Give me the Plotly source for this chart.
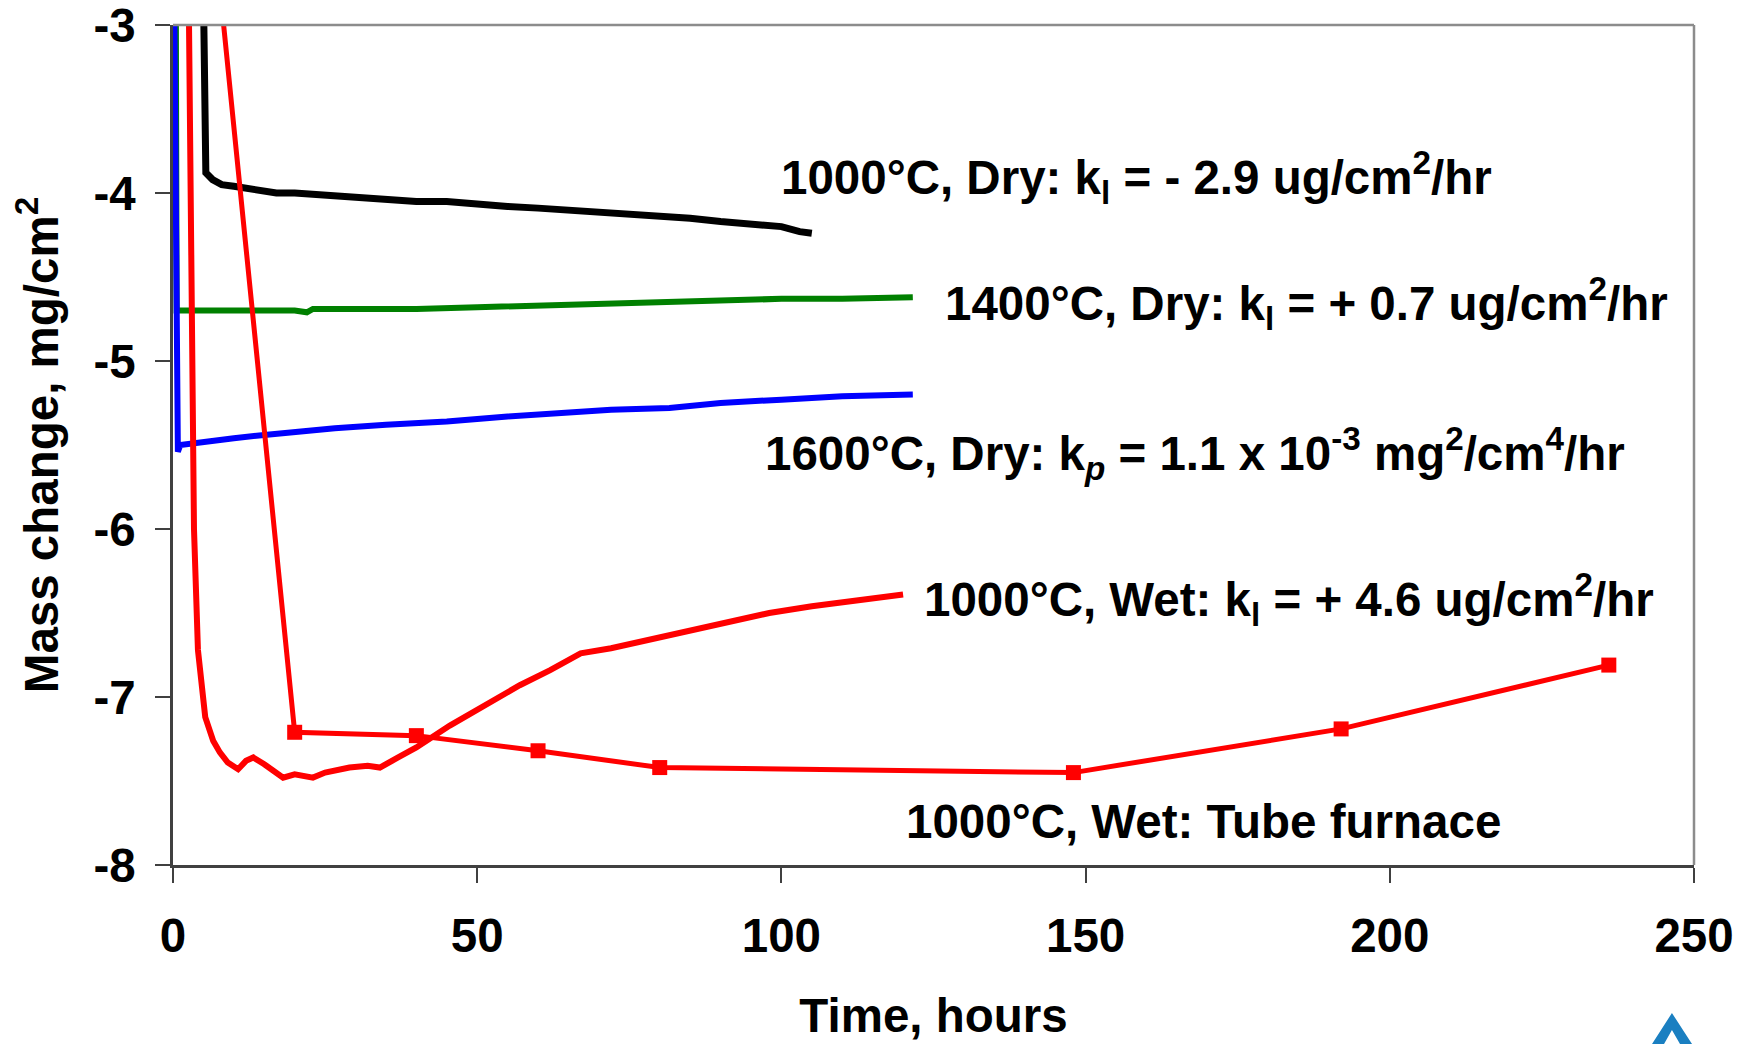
import plotly.graph_objects as go

# ---- data ----
black_t = [4.7, 5.4, 6.5, 8, 10, 13, 17, 20, 24, 27, 30, 35, 40, 45, 50, 55, 60, 65, 70, 75, 80, 85, 90, 95, 100, 103, 105]
black_m = [-2.0, -3.88, -3.92, -3.95, -3.96, -3.98, -4.0, -4.0, -4.01, -4.02, -4.02, -4.04, -4.05, -4.05, -4.07, -4.08, -4.09, -4.10, -4.11, -4.12, -4.13, -4.15, -4.17, -4.19, -4.20, -4.23, -4.24]

green_t = [0.4, 0.6, 1.5, 5, 10, 20, 22, 23, 30, 40, 50, 60, 70, 80, 90, 100, 110, 121.6]
green_m = [-2.0, -4.70, -4.70, -4.70, -4.70, -4.70, -4.71, -4.69, -4.69, -4.69, -4.68, -4.67, -4.66, -4.65, -4.64, -4.63, -4.63, -4.62]

blue_t = [0.0, 0.8, 1.2, 4, 10, 15, 20, 26.6, 35, 45, 55, 63, 72, 81.6, 90, 100, 110, 121.6]
blue_m = [-2.0, -5.54, -5.50, -5.49, -5.46, -5.44, -5.42, -5.40, -5.38, -5.36, -5.33, -5.31, -5.29, -5.28, -5.25, -5.23, -5.21, -5.20]

wet_t = [2.36, 3.2, 3.45, 4.1, 4.8, 5.3, 6.6, 7.7, 9, 10.7, 12, 13.2, 15, 18.1, 20, 23, 25, 29, 32, 34, 37, 40, 45.5, 50.4, 57, 62, 67, 72, 77, 84, 91, 98, 105, 112, 120]
wet_m = [-2.0, -5.53, -6.0, -6.72, -7.0, -7.12, -7.26, -7.33, -7.39, -7.43, -7.38, -7.36, -7.40, -7.48, -7.46, -7.48, -7.45, -7.42, -7.41, -7.42, -7.36, -7.30, -7.17, -7.07, -6.93, -6.84, -6.74, -6.71, -6.67, -6.61, -6.55, -6.50, -6.46, -6.43, -6.39]

tube_t = [0, 20, 40, 60, 80, 148, 192, 236]
tube_m = [0, -7.21, -7.23, -7.32, -7.42, -7.45, -7.19, -6.81]

x_ticks = [0, 50, 100, 150, 200, 250]
x_labels = ["0", "50", "100", "150", "200", "250"]
y_ticks = [-8, -7, -6, -5, -4, -3]
y_labels = ["-8", "-7", "-6", "-5", "-4", "-3"]

labels = [
    ("1000°C, Dry: k<sub>l</sub> = - 2.9 ug/cm<sup>2</sup>/hr", 99.6, -3.905),
    ("1400°C, Dry: k<sub>l</sub> = + 0.7 ug/cm<sup>2</sup>/hr", 126.6, -4.66),
    ("1600°C, Dry: k<sub><i>p</i></sub> = 1.1 x 10<sup>-3</sup> mg<sup>2</sup>/cm<sup>4</sup>/hr", 97.0, -5.55),
    ("1000°C, Wet: k<sub>l</sub> = + 4.6 ug/cm<sup>2</sup>/hr", 123.1, -6.42),
    ("1000°C, Wet: Tube furnace", 120.2, -7.74),
]

FONT = "Liberation Sans, Arial, sans-serif"
FS = 47.5

fig = go.Figure()
fig.add_trace(go.Scatter(x=black_t, y=black_m, mode="lines", line=dict(color="#000000", width=7), showlegend=False))
fig.add_trace(go.Scatter(x=green_t, y=green_m, mode="lines", line=dict(color="#008000", width=6), showlegend=False))
fig.add_trace(go.Scatter(x=blue_t, y=blue_m, mode="lines", line=dict(color="#0000ff", width=6), showlegend=False))
fig.add_trace(go.Scatter(x=wet_t, y=wet_m, mode="lines", line=dict(color="#ff0000", width=6), showlegend=False))
fig.add_trace(go.Scatter(x=tube_t, y=tube_m, mode="lines+markers",
                         line=dict(color="#ff0000", width=5),
                         marker=dict(symbol="square", size=15, color="#ff0000"),
                         showlegend=False))

for txt, x, y in labels:
    fig.add_annotation(x=x, y=y, xref="x", yref="y", text=txt, showarrow=False,
                       xanchor="left", yanchor="middle",
                       font=dict(family=FONT, size=FS, color="black", weight="bold"))

# frame: top and right in grey
fig.add_shape(type="line", xref="paper", yref="paper", x0=0, x1=1, y0=1, y1=1,
              line=dict(color="#8c8c8c", width=2.5))
fig.add_shape(type="line", xref="paper", yref="paper", x0=1, x1=1, y0=0, y1=1,
              line=dict(color="#8c8c8c", width=2.5))

# small logo fragment at the bottom right
fig.add_shape(type="path", xref="paper", yref="paper",
              path="M 0.9855,-0.1762 L 0.9724,-0.2131 L 0.9803,-0.2131 L 0.9855,-0.1964 L 0.9908,-0.2131 L 0.9987,-0.2131 Z",
              fillcolor="#1a7fc1", line=dict(width=0))

fig.update_xaxes(range=[0, 250], tickvals=x_ticks, ticktext=x_labels,
                 showline=True, linecolor="#404040", linewidth=2.5,
                 ticks="outside", ticklen=15, tickwidth=2, tickcolor="#404040",
                 showgrid=False, zeroline=False, ticklabeloverflow="allow",
                 tickfont=dict(family=FONT, size=FS, color="black", weight="bold"),
                 ticklabelstandoff=12,
                 title=dict(text="Time, hours", standoff=38,
                            font=dict(family=FONT, size=FS, color="black", weight="bold")))
fig.update_yaxes(range=[-8, -3], tickvals=y_ticks, ticktext=y_labels,
                 showline=True, linecolor="#404040", linewidth=2.5,
                 ticks="outside", ticklen=15, tickwidth=2, tickcolor="#404040",
                 showgrid=False, zeroline=False, ticklabeloverflow="allow",
                 tickfont=dict(family=FONT, size=FS, color="black", weight="bold"),
                 ticklabelstandoff=10,
                 title=dict(text="Mass change, mg/cm<sup>2</sup>", standoff=22,
                            font=dict(family=FONT, size=FS, color="black", weight="bold")))

# the page body has an 8 px default margin, so the figure is 8 px smaller
fig.update_layout(width=1742, height=1036,
                  margin=dict(l=165, r=56, t=17, b=179, autoexpand=False),
                  paper_bgcolor="white", plot_bgcolor="white",
                  font=dict(family=FONT, size=FS, color="black"))

fig.write_html("out.html")
